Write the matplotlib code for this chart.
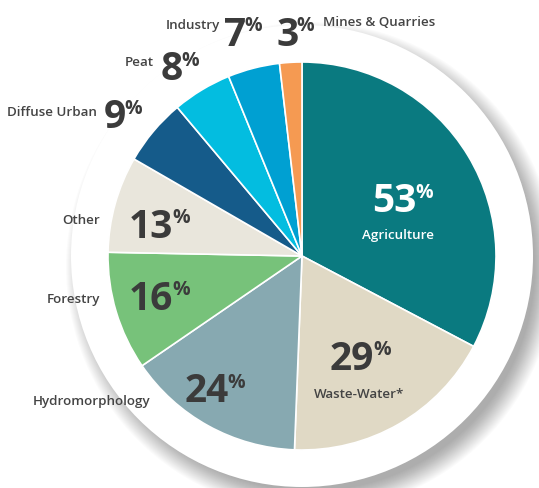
import matplotlib.pyplot as plt
from matplotlib.patches import Circle

plt.rcParams['font.family'] = ['Open Sans', 'DejaVu Sans']

# data (clockwise from 12 o'clock)
sources = ['Agriculture', 'Waste-Water*', 'Hydromorphology', 'Forestry', 'Other',
           'Diffuse Urban', 'Peat', 'Industry', 'Mines & Quarries']
pressure_pct = [53, 29, 24, 16, 13, 9, 8, 7, 3]
colors = ['#0a7a80', '#e0d9c5', '#87a9b1', '#77c27a', '#e9e6dc',
          '#155b8a', '#03bde0', '#00a0d2', '#f59a52']

W, H = 539, 488
cx, cy, r = 302, H - 256, 194

fig = plt.figure(figsize=(W / 100, H / 100), dpi=100)
ax = fig.add_axes([0, 0, 1, 1])

# soft shadow (lower right) + white disc behind the pie
for i in range(22):
    ax.add_patch(Circle((cx + 9, cy - 11), 224 + i * 1.0, color='black',
                        alpha=0.014, lw=0, zorder=0))
ax.add_patch(Circle((cx, cy), 231, color='white', lw=0, zorder=1))

wedges, _ = ax.pie(pressure_pct, colors=colors, radius=r, center=(cx, cy),
                   startangle=90, counterclock=False, frame=True,
                   wedgeprops=dict(edgecolor='white', linewidth=1.2))
for w in wedges:
    w.set_zorder(2)
ax.set_xlim(0, W)
ax.set_ylim(0, H)
ax.set_aspect('equal')
ax.axis('off')

# label placement in pixels: (number left x, number centre y, label x, label y, label ha)
layout = [
    (372, 202, 398, 236, 'center'),
    (330, 359, 359, 395, 'center'),
    (185, 392, 150, 402, 'right'),
    (129, 299, 100, 300, 'right'),
    (129, 227, 100, 220, 'right'),
    (104, 118, 97, 113, 'right'),
    (161, 70, 154, 62, 'right'),
    (224, 35, 220, 26, 'right'),
    (276, 35, 323, 23, 'left'),
]

dark = '#3b3b3b'
for name, val, (nx, ny, lx, ly, ha) in zip(sources, pressure_pct, layout):
    col = 'white' if name == 'Agriculture' else dark
    num = ax.text(nx, H - ny, str(val), fontsize=28, fontweight='bold',
                  color=col, ha='left', va='center', zorder=5)
    ax.annotate('%', xy=(1, 1), xycoords=num, xytext=(-1, -0.5),
                textcoords='offset points', fontsize=14, fontweight='bold',
                color=col, ha='left', va='top', zorder=5)
    lab_col = 'white' if name == 'Agriculture' else '#444444'
    ax.text(lx, H - ly, name, fontsize=9.6, fontweight='semibold', color=lab_col,
            ha=ha, va='center', zorder=5)

fig.savefig('out.png', dpi=100)
